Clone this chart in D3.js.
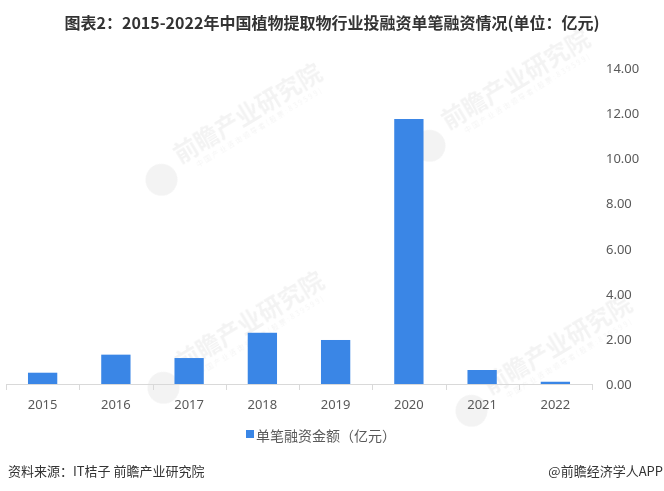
<!DOCTYPE html>
<html>
<head>
<meta charset="utf-8">
<script src="https://cdn.jsdelivr.net/npm/d3@7"></script>
<style>
  html, body { margin: 0; padding: 0; background: #fff; }
  svg { display: block; font-family: "Noto Sans CJK SC", "Noto Sans", sans-serif; }
</style>
</head>
<body>
<svg id="chart" width="664" height="491"></svg>
<script>
const years = ["2015", "2016", "2017", "2018", "2019", "2020", "2021", "2022"];
const values = [0.50, 1.30, 1.15, 2.27, 1.95, 11.74, 0.62, 0.10];
const yTicks = [0, 2, 4, 6, 8, 10, 12, 14];
const titleText = "图表2：2015-2022年中国植物提取物行业投融资单笔融资情况(单位：亿元)";
const legendText = "单笔融资金额（亿元）";
const sourceText = "资料来源：IT桔子 前瞻产业研究院";
const creditText = "@前瞻经济学人APP";
const watermarkText = "前瞻产业研究院";
const watermarkSub = "中国产业咨询领导者(股票:839599)";

const svg = d3.select("#chart");
const W = 664, H = 491;
const barColor = "#3A86E6";

// faint watermarks
const wmSpots = [[180, 164], [182, 372], [448, 130], [490, 395]];
const wmg = svg.append("g").attr("fill", "#000").attr("opacity", 0.05);
wmSpots.forEach(([wx, wy]) => {
  const g = wmg.append("g").attr("transform", `translate(${wx},${wy}) rotate(-31)`);
  g.append("circle").attr("cx", -24).attr("cy", 4).attr("r", 16);
  g.append("text").attr("x", 0).attr("y", 0).attr("font-size", 24).attr("font-weight", "bold").text(watermarkText);
  g.append("text").attr("x", 14).attr("y", 12).attr("font-size", 7).attr("letter-spacing", 2).text(watermarkSub);
});

const x = d3.scaleBand().domain(years).range([6, 592]).padding(0);
const y = d3.scaleLinear().domain([0, 14]).range([384, 68]);

// title
svg.append("text")
  .attr("x", W / 2).attr("y", 22)
  .attr("text-anchor", "middle").attr("dominant-baseline", "central")
  .attr("font-size", 16).attr("font-weight", "bold").attr("fill", "#333")
  .text(titleText);

// bars
svg.append("g").selectAll("rect").data(values).join("rect")
  .attr("x", (d, i) => x(years[i]) + x.bandwidth() * 0.3)
  .attr("width", x.bandwidth() * 0.4)
  .attr("y", d => y(d))
  .attr("height", d => y(0) - y(d))
  .attr("fill", barColor);

// x axis
const xa = svg.append("g");
xa.append("line").attr("x1", 6).attr("x2", 592).attr("y1", y(0) + 0.5).attr("y2", y(0) + 0.5)
  .attr("stroke", "#d9d9d9");
const bounds = years.map(d => x(d)).concat([x(years[years.length - 1]) + x.bandwidth()]);
xa.selectAll("line.t").data(bounds).join("line").attr("class", "t")
  .attr("x1", d => Math.round(d) + 0.5).attr("x2", d => Math.round(d) + 0.5)
  .attr("y1", y(0)).attr("y2", y(0) + 6).attr("stroke", "#d9d9d9");
xa.selectAll("text").data(years).join("text")
  .attr("x", d => x(d) + x.bandwidth() / 2).attr("y", 404)
  .attr("text-anchor", "middle").attr("dominant-baseline", "central")
  .attr("font-size", 13).attr("fill", "#595959")
  .attr("font-family", "'Noto Sans', sans-serif")
  .text(d => d);

// y axis (right)
const ya = svg.append("g");
ya.selectAll("text").data(yTicks).join("text")
  .attr("x", 606).attr("y", d => y(d))
  .attr("dominant-baseline", "central")
  .attr("font-size", 13).attr("fill", "#595959")
  .attr("font-family", "'Noto Sans', sans-serif")
  .text(d => d3.format(".2f")(d));

// legend
svg.append("rect").attr("x", 246).attr("y", 430).attr("width", 8).attr("height", 8).attr("fill", barColor);
svg.append("text").attr("x", 256).attr("y", 435)
  .attr("dominant-baseline", "central").attr("font-size", 14).attr("fill", "#595959")
  .text(legendText);

// footer
svg.append("text").attr("x", 8).attr("y", 470)
  .attr("dominant-baseline", "central").attr("font-size", 13).attr("fill", "#333")
  .text(sourceText);
svg.append("text").attr("x", 663).attr("y", 470)
  .attr("text-anchor", "end").attr("dominant-baseline", "central").attr("font-size", 13).attr("fill", "#333")
  .text(creditText);
</script>
</body>
</html>
